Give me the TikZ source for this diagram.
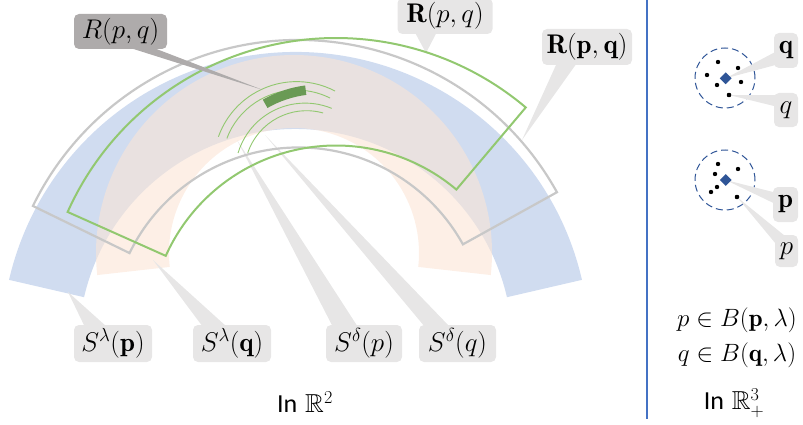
\RequirePackage{fix-cm}
\documentclass[tikz,border=0pt]{standalone}
\usepackage{amsmath,amssymb}
\usepackage{fontspec}
\newfontfamily\sansfnt{Carlito}
\usetikzlibrary{shapes.geometric,calc}
\definecolor{blueln}{HTML}{4472C4}
\definecolor{bluedk}{HTML}{2F5597}
\definecolor{peach}{HTML}{FBE5D6}
\definecolor{grnln}{HTML}{92C870}
\definecolor{grndk}{HTML}{6A9A55}
\definecolor{grayln}{HTML}{C8C8C8}
\definecolor{lblgray}{HTML}{E7E6E6}
\definecolor{lbldark}{HTML}{AEABAB}
\begin{document}
\begin{tikzpicture}[x=1pt,y=1pt,
  every node/.style={font=\fontsize{27}{32}\selectfont},
  lbl/.style={fill=lblgray, rounded corners=5pt, inner sep=0pt, text=black},
  lbldk/.style={fill=lbldark, rounded corners=5pt, inner sep=0pt, text=black},
  wedge/.style={fill=lblgray},
  wedgedk/.style={fill=lbldark},
  outlinegray/.style={draw=grayln, line width=2.2pt, miter limit=10},
  outlinegrn/.style={draw=grnln, line width=2pt, miter limit=10},
  thinarc/.style={draw=grnln, line width=0.9pt},
  dot/.style={circle, fill=black, inner sep=0pt, minimum size=4.4pt},
  dia/.style={diamond, fill=bluedk, inner sep=0pt, minimum size=12pt},
  ball/.style={circle, draw=bluedk, line width=1pt, dash pattern=on 7pt off 4pt, minimum size=60pt, inner sep=0pt},
  formula/.style={font=\fontsize{25}{30}\selectfont},
  caption/.style={font=\fontsize{26}{30}\selectfont}
]
\useasboundingbox (0,0) rectangle (803,424);

% S^lambda(p) : blue band
\fill[blueln!25] (295.5,78) ++(13:294) arc[start angle=13,end angle=167,radius=294]
  -- ++(347:77) arc[start angle=167,end angle=13,radius=217] -- cycle;
% S^lambda(q) : peach band
\fill[peach, fill opacity=0.6] (294,171) ++(-6.4:198) arc[start angle=-6.4,end angle=186.4,radius=198]
  -- ++(6.4:73) arc[start angle=186.4,end angle=-6.4,radius=125] -- cycle;

% label boxes
\node[lbl, minimum width=95pt, minimum height=36pt] (rg) at (445,408) {$\mathbf{R}(p,q)$};
\node[lbl, minimum width=90pt, minimum height=36pt] (rb) at (587,377) {$\mathbf{R}(\mathbf{p},\mathbf{q})$};
\node[lbl, minimum width=78pt, minimum height=37pt] (slp) at (113,80.5) {$S^{\lambda}(\mathbf{p})$};
\node[lbl, minimum width=78pt, minimum height=37pt] (slq) at (232,80.5) {$S^{\lambda}(\mathbf{q})$};
\node[lbl, minimum width=76pt, minimum height=37pt] (sdp) at (364,80.5) {$S^{\delta}(p)$};
\node[lbl, minimum width=77pt, minimum height=37pt] (sdq) at (457.5,80.5) {$S^{\delta}(q)$};

% pointer tips
\coordinate (trg) at (426,371);
\coordinate (trb) at (522,284);
\coordinate (tslp) at (68,132);
\coordinate (tslq) at (153,164);
\coordinate (tsdp) at (237,284);
\coordinate (tsdq) at (265,289);
\coordinate (trd) at (263,334);

\fill[wedge] ($(rg.south west)+(17.5,2)$) -- (trg) -- ($(rg.south west)+(39.5,2)$) -- cycle;
\fill[wedge] ($(rb.south west)+(15,2)$) -- (trb) -- ($(rb.south west)+(35,2)$) -- cycle;
\fill[wedge] ($(slp.north west)+(11,-2)$) -- (tslp) -- ($(slp.north west)+(33,-2)$) -- cycle;
\fill[wedge] ($(slq.north west)+(10,-2)$) -- (tslq) -- ($(slq.north west)+(34,-2)$) -- cycle;
\fill[wedge] ($(sdp.north west)+(7,-2)$) -- (tsdp) -- ($(sdp.north west)+(32,-2)$) -- cycle;
\fill[wedge] ($(sdq.north west)+(6,-2)$) -- (tsdq) -- ($(sdq.north west)+(31,-2)$) -- cycle;

% R(p,q) bold : gray outline
\draw[outlinegray] (298.5,88.5) ++(29:295.5) arc[start angle=29,end angle=154,radius=295.5]
  -- ++(-26:107.5) arc[start angle=154,end angle=29,radius=188] -- cycle;
% R(p,q) : green outline
\draw[outlinegrn] (336,92) ++(49.8:294) arc[start angle=49.8,end angle=155.9,radius=294]
  -- ++(-24.1:107.5) arc[start angle=155.9,end angle=49.8,radius=186.5] -- cycle;

% S^delta arcs
\draw[thinarc] (296.6,259.4) ++(62.4:83) arc[start angle=62.4,end angle=160.4,radius=83];
\draw[thinarc] (296.6,259.4) ++(63.3:74.5) arc[start angle=63.3,end angle=159.4,radius=74.5];
\draw[thinarc] (305.1,250.9) ++(67.7:70) arc[start angle=67.7,end angle=163.3,radius=70];
\draw[thinarc] (306.5,251.3) ++(74.5:62) arc[start angle=74.5,end angle=161.5,radius=62];
% R(p,q) patch
\fill[grndk] (320,224) ++(97.4:115.5) arc[start angle=97.4,end angle=119.7,radius=115.5]
  -- ++(-60.3:9.5) arc[start angle=119.7,end angle=97.4,radius=106] -- cycle;

% dark label
\node[lbldk, minimum width=93pt, minimum height=35pt] (rd) at (120.5,392.5) {$R(p,q)$};
\fill[wedgedk] ($(rd.south west)+(54,2)$) -- (trd) -- ($(rd.south west)+(78,2)$) -- cycle;

% bottom caption
\node[caption] (cap2) at (305,22) {{\sansfnt In} $\mathbb{R}^2$};

% separator
\coordinate (vtop) at (647,424);
\coordinate (vbot) at (647,5);
\draw[blueln, line width=1.5pt] (vtop) -- (vbot);

% right panel
\node[ball] (ballq) at (725,346) {};
\node[ball] (ballp) at (725,244) {};
\node[lbl, minimum width=24pt, minimum height=35pt] (bq) at (786,373.5) {$\mathbf{q}$};
\node[lbl, minimum width=24pt, minimum height=34pt] (iq) at (786,314) {$q$};
\node[lbl, minimum width=25pt, minimum height=35pt] (bp) at (785.5,219.5) {$\mathbf{p}$};
\node[lbl, minimum width=23pt, minimum height=32pt] (ip) at (786.5,173) {$p$};

\coordinate (dqc) at (725.7,345.7);
\coordinate (dpc) at (725.7,244);
\node[dot] (q6) at (729,329) {};
\node[dot] (p6) at (737,227) {};
\fill[wedge] (dqc) -- ($(bq.south west)+(1,3)$) -- ($(bq.south west)+(1,16)$) -- cycle;
\fill[wedge] (q6.center) -- ($(iq.south west)+(1,21)$) -- ($(iq.south west)+(1,32)$) -- cycle;
\fill[wedge] (dpc) -- ($(bp.south west)+(1,19)$) -- ($(bp.south west)+(1,30)$) -- cycle;
\fill[wedge] (p6.center) -- ($(ip.north west)+(1,-9)$) -- ($(ip.north west)+(10,-1)$) -- cycle;

\node[dia] (dq) at (dqc) {};
\node[dia] (dp) at (dpc) {};
\node[dot] (q1) at (718,362) {};
\node[dot] (q2) at (738,356) {};
\node[dot] (q3) at (707,349) {};
\node[dot] (q4) at (717,339) {};
\node[dot] (q5) at (741,342) {};
\node[dot] (q6b) at (729,329) {};
\node[dot] (p1) at (718,260) {};
\node[dot] (p2) at (738,255) {};
\node[dot] (p3) at (715,250) {};
\node[dot] (p4) at (717,237) {};
\node[dot] (p5) at (711,232) {};
\node[dot] (p6b) at (737,227) {};

\node[formula] (f1) at (737,104) {$p\in B(\mathbf{p},\lambda)$};
\node[formula] (f2) at (737,69) {$q\in B(\mathbf{q},\lambda)$};
\node[caption] (cap3) at (734,21) {{\sansfnt In} $\mathbb{R}^3_+$};
\end{tikzpicture}
\end{document}
